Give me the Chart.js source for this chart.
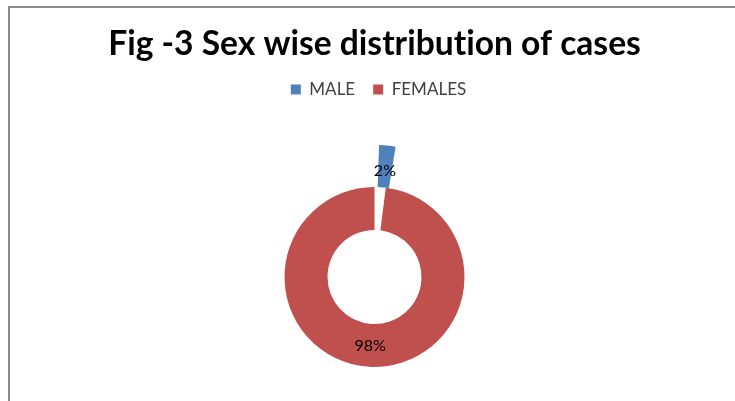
<!DOCTYPE html>
<html>
<head>
<meta charset="utf-8">
<script src="https://cdn.jsdelivr.net/npm/chart.js@4/dist/chart.umd.min.js"></script>
<style>
  body { margin: 0; background: #fff; }
  #frame { position: absolute; left: 8px; top: 6px; width: 800px; height: 420px;
           border-left: 2px solid #8a8a8a; border-top: 2px solid #8a8a8a; }
  #wrap { position: absolute; left: 0; top: 0; width: 735px; height: 401px; }
</style>
</head>
<body>
<div id="frame"></div>
<div id="wrap"><canvas id="pie-chart"></canvas></div>
<script>
let chartTitle = 'Fig -3 Sex wise distribution of cases';
let categories = ['MALE', 'FEMALES'];
let shares = [2, 98];
let sliceColors = ['#4F81BD', '#C0504D'];
let exploded = [true, false];   // MALE slice is pulled out of the ring

// outer ring holds the pulled-out slice, inner ring holds the rest
let outerColors = sliceColors.map((c, i) => exploded[i] ? c : 'rgba(0,0,0,0)');
let innerColors = sliceColors.map((c, i) => exploded[i] ? 'rgba(0,0,0,0)' : c);

// extra room under the legend so the ring sits low like the original
const legendGap = {
  id: 'legendGap',
  beforeInit(chart) {
    const fit = chart.legend.fit;
    chart.legend.fit = function () {
      fit.bind(chart.legend)();
      this.height += 45;
    };
  },
  afterLayout(chart) {
    chart.legend.left += 4;
    chart.legend.right += 4;
  },
  beforeDraw(chart) {
    chart.ctx.textRendering = 'optimizeSpeed';
  }
};

// percentage labels on the slices
const sliceLabels = {
  id: 'sliceLabels',
  afterDatasetsDraw(chart) {
    const ctx = chart.ctx;
    ctx.save();
    ctx.font = '16px Lato';
    ctx.fillStyle = '#000';
    ctx.textAlign = 'center';
    ctx.textBaseline = 'middle';
    shares.forEach((v, i) => {
      const ring = exploded[i] ? 0 : 1;
      const arc = chart.getDatasetMeta(ring).data[i];
      const mid = (arc.startAngle + arc.endAngle) / 2;
      const frac = exploded[i] ? 0.4 : 0.52;
      const r = arc.innerRadius + (arc.outerRadius - arc.innerRadius) * frac;
      ctx.fillText(v + '%', arc.x + Math.cos(mid) * r, arc.y + Math.sin(mid) * r);
    });
    ctx.restore();
  }
};

new Chart(document.getElementById('pie-chart'), {
  type: 'doughnut',
  data: {
    labels: categories,
    datasets: [
      { data: shares, backgroundColor: outerColors, borderWidth: 0, weight: 42, rotation: 2 },
      { data: shares, backgroundColor: innerColors, borderWidth: 0, weight: 43 }
    ]
  },
  options: {
    responsive: true,
    maintainAspectRatio: false,
    animation: false,
    radius: 132,
    cutout: '35.6%',
    layout: { padding: { left: 14, right: 0, top: 0, bottom: 0 } },
    plugins: {
      title: {
        display: true,
        text: chartTitle,
        color: '#000',
        font: { family: 'Lato', size: 33.6, weight: 'bold', lineHeight: 1.1 },
        padding: { top: 26, bottom: 0 }
      },
      legend: {
        display: true,
        labels: {
          color: '#404040',
          boxWidth: 10,
          boxHeight: 10,
          padding: 18,
          font: { family: 'Lato', size: 17 },
          generateLabels: () => categories.map((c, i) => ({
            text: c,
            fillStyle: sliceColors[i],
            strokeStyle: 'rgba(0,0,0,0)',
            lineWidth: 0,
            fontColor: '#404040',
            hidden: false,
            index: i
          }))
        }
      },
      tooltip: { enabled: false }
    }
  },
  plugins: [legendGap, sliceLabels]
});
</script>
</body>
</html>
